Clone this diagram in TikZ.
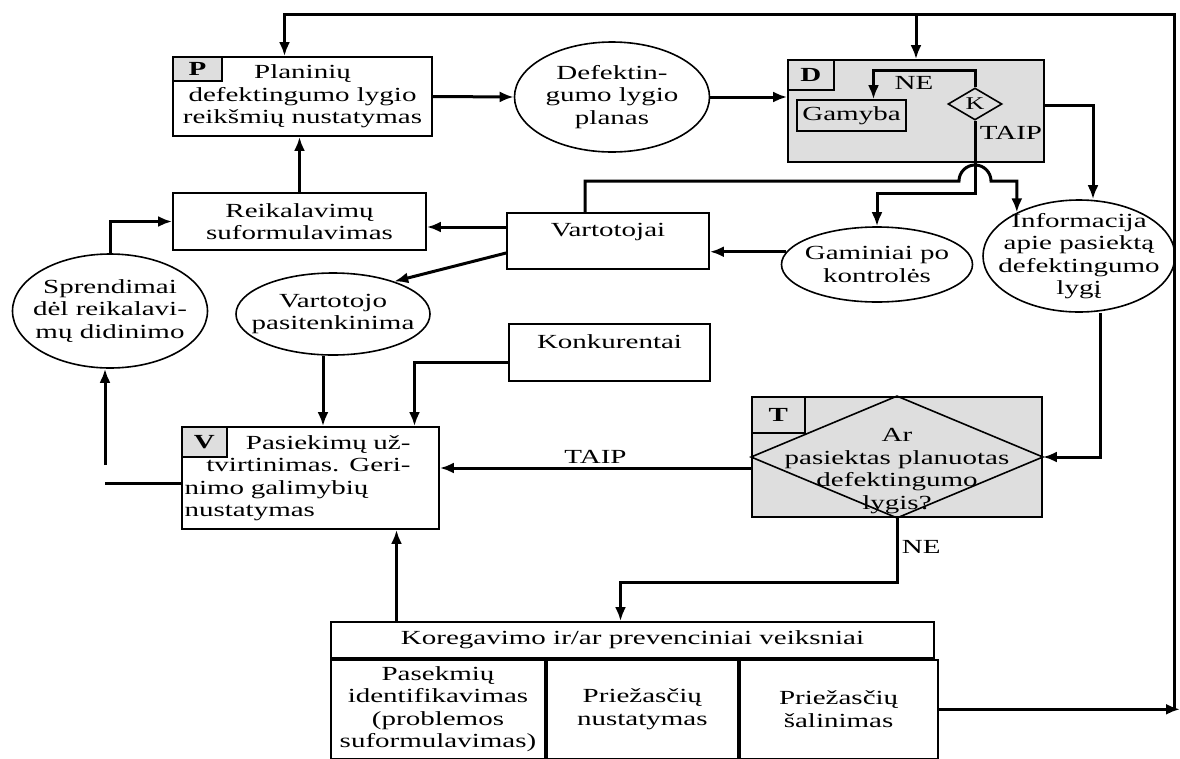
\documentclass[tikz,border=0pt]{standalone}
\usepackage{fontspec}
\setmainfont{Liberation Serif}[FakeStretch=1.45]
\usepackage{tikz}
\usetikzlibrary{shapes.geometric}
\usetikzlibrary{arrows.meta,calc,positioning}

\begin{document}
\begin{tikzpicture}[x=1pt,y=-1pt,auto,every node/.style={font=\fontsize{20}{22.5}\selectfont}]

% Define block styles
\tikzstyle{block} = [rectangle, draw, line width=1.8pt, inner sep=2pt, align=center]
\tikzstyle{shaded} = [block, fill=black!13]
\tikzstyle{tag} = [rectangle, draw, line width=1.6pt, fill=black!13, inner sep=0pt,
    anchor=north west, font=\fontsize{20}{22}\selectfont\bfseries]
\tikzstyle{oval} = [ellipse, draw, line width=1.6pt, inner sep=0pt]
\tikzstyle{txt} = [align=center, inner sep=0pt]
\tikzstyle{cell} = [block, minimum height=99pt, anchor=north west, inner sep=0pt]
\tikzstyle{line} = [draw, line width=3pt, -{Latex[length=14pt,width=11pt]}]
\tikzstyle{conn} = [draw, line width=3pt]

\useasboundingbox (0,0) rectangle (1180,758);

% planning
\node [block, minimum width=259pt, minimum height=79pt] (plan) at (302.5,96.5) {Planinių\\defektingumo lygio\\reikšmių nustatymas};
\node [tag, minimum width=49pt, minimum height=24pt] (ptag) at (plan.north west) {P};
\node [oval, minimum width=195pt, minimum height=110pt,
    label={[txt]center:Defektin-\\gumo lygio\\planas}] (dplan) at (612,97) {};

% production
\node [shaded, minimum width=256pt, minimum height=102pt] (dbox) at (916,111) {};
\node [tag, minimum width=46pt, minimum height=30pt] (dtag) at (dbox.north west) {D};
\node [block, line width=1.6pt, minimum width=109pt, minimum height=31pt, inner sep=0pt] (gamyba) at (851.5,115.5) {Gamyba};
\node [diamond, draw, line width=1.6pt, inner sep=0pt, aspect=1.7, minimum width=54pt,
    minimum height=32pt, font=\fontsize{18}{20}\selectfont] (kdia) at (975,104) {K};
\node (ne1) at (914,83) {NE};
\node (taip1) at (1011,133) {TAIP};

\node [oval, minimum width=191pt, minimum height=75pt,
    label={[txt]center:Gaminiai po\\kontrolės}] (gamin) at (877,264.5) {};
\node [oval, minimum width=192pt, minimum height=112pt,
    label={[txt]center:Informacija\\apie pasiektą\\defektingumo\\lygį}] (info) at (1079,256) {};

% customers
\node [block, minimum width=202pt, minimum height=56pt, inner sep=0pt] (vartot) at (608,241) {Vartotojai\\ \mbox{}};
\node [block, minimum width=253pt, minimum height=57pt] (reik) at (299.5,221.5) {Reikalavimų\\suformulavimas};
\node [oval, minimum width=195pt, minimum height=114pt,
    label={[txt]center:Sprendimai\\dėl reikalavi-\\mų didinimo}] (spr) at (110,311) {};
\node [oval, minimum width=194pt, minimum height=82pt,
    label={[txt]center:Vartotojo\\pasitenkinima}] (vpas) at (333,314) {};
\node [block, minimum width=201pt, minimum height=57pt, inner sep=0pt] (konk) at (609.5,352.5) {Konkurentai\\ \mbox{}};

% validation
\node [block, minimum width=257pt, minimum height=102pt, text width=252pt, align=left, inner sep=0pt] (val) at (310.5,478)
    {\makebox[226pt][r]{Pasiekimų už-}\\\makebox[226pt][r]{tvirtinimas. Geri-}\\nimo galimybių\\nustatymas};
\node [tag, minimum width=45pt, minimum height=30pt] (vtag) at (val.north west) {V};

% check
\node [shaded, minimum width=290pt, minimum height=120pt, inner sep=0pt,
    label={[txt,yshift=-14pt]center:Ar\\pasiektas planuotas\\defektingumo\\lygis?}] (tbox) at (897,457) {};
\draw[line width=1.6pt] (tbox.north) -- (tbox.west) -- (tbox.south) -- (tbox.east) -- cycle;
\node [tag, minimum width=53pt, minimum height=36pt] (ttag) at (tbox.north west) {T};

% actions
\node [block, minimum width=603pt, minimum height=36pt, inner sep=0pt] (kor) at (632.5,640) {Koregavimo ir/ar prevenciniai veiksniai};
\node [cell, minimum width=214pt] (pasek) at (kor.south west) {Pasekmių\\identifikavimas\\(problemos\\suformulavimas)};
\node [cell, minimum width=191pt] (priez) at (pasek.north east) {Priežasčių\\nustatymas};
\node [cell, minimum width=198pt] (salin) at (priez.north east) {Priežasčių\\šalinimas};

\coordinate (rtop) at (1174,14);
\coordinate (redge) at (1180,707);
\coordinate (hop) at (959,181);
\coordinate (vend) at (105,483);
\coordinate (sbeg) at (105,465);

\draw[line] (salin.east -| rtop) -- (rtop) -| ([xshift=-18pt]plan.north);
\draw[line] (dbox.north |- rtop) -- (dbox.north);
\draw[line] (salin.east) -- (salin.east -| redge);

\draw[line] (plan.east) -- (dplan.west);
\draw[line] (dplan.east) -- (dplan.east -| dbox.west);
\draw[line] (reik.north) -- (reik.north |- plan.south);
\draw[line] (spr.north) |- (reik.west);
\draw[line] ([yshift=14pt]vartot.west) -- ([yshift=14pt]vartot.west -| reik.east);
\draw[line] ([yshift=-12pt]vartot.west) -- (vpas.28);
\draw[line] (gamin.172) -- (gamin.172 -| vartot.east);

\draw[line] (kdia.south) -- ++(0,73) -| (gamin.north);
\draw[line] (kdia.north) -- ++(0,-17) -| ([xshift=22pt]gamyba.north);
\draw[line] ([yshift=6pt]dbox.east) -| ([xshift=14pt]info.north);
\draw[line] ([xshift=-23pt]vartot.north) |- (hop) arc[start angle=180, end angle=360, radius=16] -| (info.145);

\draw[line] ([xshift=21pt]info.south) |- (tbox.east);
\draw[line] ([yshift=-11pt]tbox.west) -- node[above] {TAIP} ([yshift=-11pt]tbox.west -| val.east);
\draw[line] (tbox.south) -- node[right, pos=.45] {NE} ++(0,65) -| ([xshift=-12pt]kor.north);
\draw[line] ([xshift=86pt]val.south |- kor.north) -- ([xshift=86pt]val.south);

\draw[line] ([xshift=-10pt]vpas.south) -- ([xshift=-10pt]vpas.south |- val.north);
\draw[line] ([yshift=-10pt]konk.west) -| ([xshift=104pt]val.north);
\draw[conn] (vend -| val.west) -- (vend);
\draw[line] (sbeg) -- (sbeg |- spr.south);

\end{tikzpicture}
\end{document}
